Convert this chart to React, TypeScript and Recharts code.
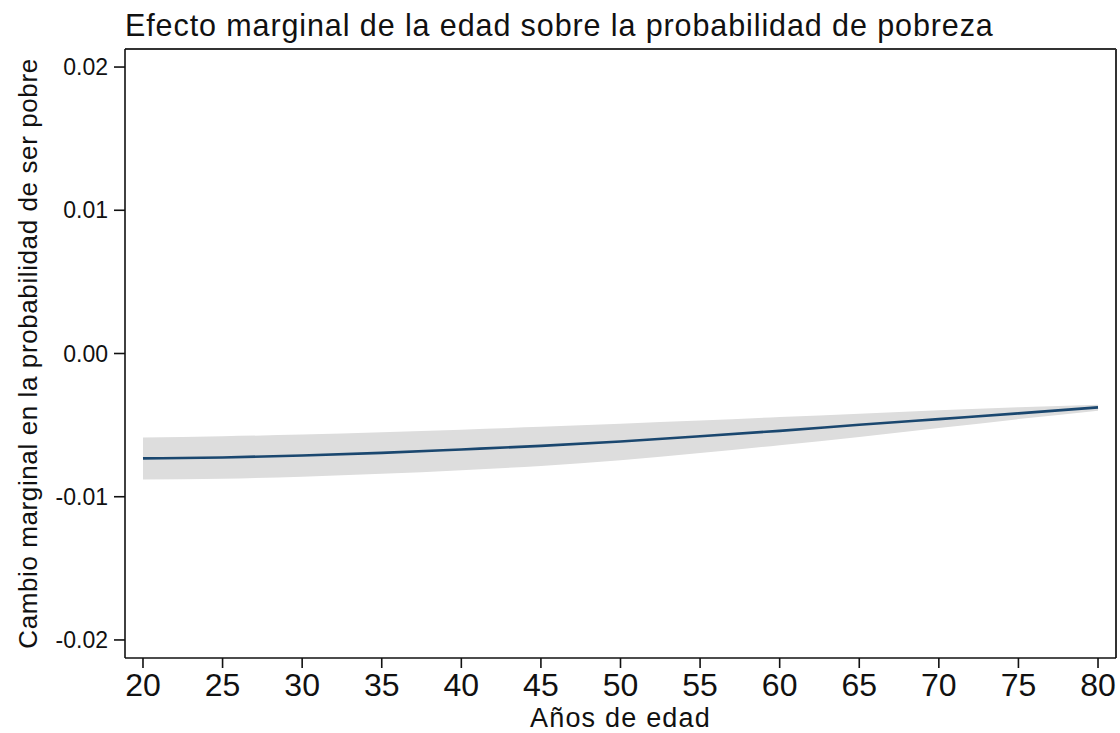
import React from "react";
import {
  ComposedChart,
  Area,
  Line,
  XAxis,
  YAxis,
  Label,
  ReferenceLine,
} from "recharts";

// edad (años) y efecto marginal estimado, con intervalo de confianza
const ages = [20, 25, 30, 35, 40, 45, 50, 55, 60, 65, 70, 75, 80];
const effect = [
  -0.00732, -0.00726, -0.00712, -0.00694, -0.0067, -0.00645, -0.00614,
  -0.00578, -0.0054, -0.00498, -0.00458, -0.00418, -0.00376,
];
const upper = [
  -0.00587, -0.00578, -0.00566, -0.0055, -0.00532, -0.00512, -0.0049,
  -0.00468, -0.00444, -0.0042, -0.00396, -0.00376, -0.00357,
];
const lower = [
  -0.00879, -0.00874, -0.0086, -0.0084, -0.00815, -0.00785, -0.00745,
  -0.00695, -0.0064, -0.00583, -0.0052, -0.00458, -0.00399,
];
const xTicks = [20, 25, 30, 35, 40, 45, 50, 55, 60, 65, 70, 75, 80];
const yTicks = [-0.02, -0.01, 0, 0.01, 0.02];

const X_DOMAIN = [18.87, 81.13];
const Y_DOMAIN = [-0.02126, 0.02126];

const FONT = "'Liberation Sans', Arial, sans-serif";
const NAVY = "#1a476f";

export default function App() {
  const data = ages.map((a, i) => ({
    age: a,
    effect: effect[i],
    band: [lower[i], upper[i]],
  }));

  return (
    <div style={{ position: "relative", width: 1120, height: 733, fontFamily: FONT }}>
      <style>{"body{margin:0}"}</style>
      <div
        style={{
          position: "absolute",
          left: 125,
          top: 9,
          fontSize: 30.5,
          letterSpacing: 0.9,
          color: "#111",
          whiteSpace: "nowrap",
          lineHeight: "32px",
        }}
      >
        Efecto marginal de la edad sobre la probabilidad de pobreza
      </div>
      <ComposedChart
        width={1120}
        height={733}
        data={data}
        margin={{ top: 49, right: 4, left: 0, bottom: 0 }}
      >
        <XAxis
          dataKey="age"
          type="number"
          domain={X_DOMAIN}
          ticks={xTicks}
          allowDataOverflow
          height={75}
          tickSize={10}
          tickMargin={5}
          stroke="#111"
          strokeWidth={1.6}
          tick={{ fontSize: 32, fill: "#111", fontFamily: FONT }}
        >
          <Label
            value="Años de edad"
            position="insideBottom"
            offset={6}
            style={{ fontSize: 27, letterSpacing: 1.2, fill: "#111", fontFamily: FONT }}
          />
        </XAxis>
        <YAxis
          type="number"
          domain={Y_DOMAIN}
          ticks={yTicks}
          allowDataOverflow
          width={125}
          tickSize={11}
          tickMargin={6}
          stroke="#111"
          strokeWidth={1.6}
          tickFormatter={(v: number) => v.toFixed(2)}
          tick={{ fontSize: 23, fill: "#111", fontFamily: FONT }}
        >
          <Label
            value="Cambio marginal en la probabilidad de ser pobre"
            angle={-90}
            position="insideLeft"
            offset={28}
            style={{
              textAnchor: "middle",
              fontSize: 26,
              letterSpacing: 0.6,
              fill: "#111",
              fontFamily: FONT,
            }}
          />
        </YAxis>
        <ReferenceLine y={Y_DOMAIN[1]} stroke="#333" strokeWidth={2} />
        <ReferenceLine x={X_DOMAIN[1]} stroke="#333" strokeWidth={2} />
        <Area
          dataKey="band"
          type="monotone"
          fill="#dddddd"
          fillOpacity={1}
          stroke="none"
          isAnimationActive={false}
          activeDot={false}
        />
        <Line
          dataKey="effect"
          type="monotone"
          stroke={NAVY}
          strokeWidth={2.6}
          dot={false}
          activeDot={false}
          isAnimationActive={false}
        />
      </ComposedChart>
    </div>
  );
}
